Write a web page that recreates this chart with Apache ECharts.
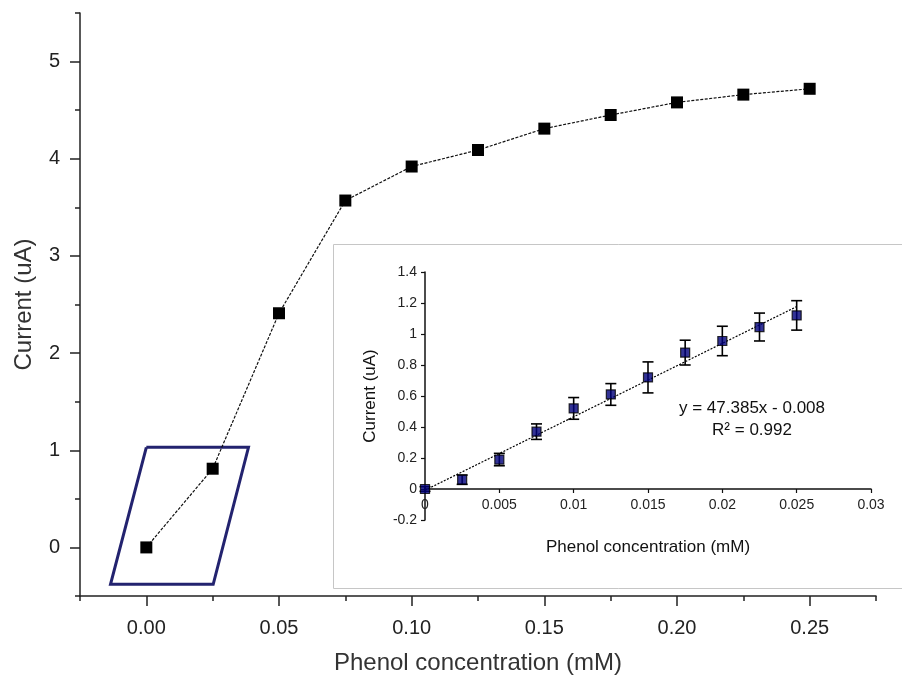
<!DOCTYPE html>
<html>
<head>
<meta charset="utf-8">
<title>Phenol calibration</title>
<script src="https://cdn.jsdelivr.net/npm/echarts@6/dist/echarts.min.js"></script>
<style>
  html, body { margin: 0; padding: 0; background: #fff; }
  #chart { width: 902px; height: 680px; }
</style>
</head>
<body>
<div id="chart"></div>
<script>
// Full concentration range (mM) and measured current (uA)
const mainConc = [0, 0.025, 0.05, 0.075, 0.10, 0.125, 0.15, 0.175, 0.20, 0.225, 0.25];
const mainCurrent = [0, 0.81, 2.41, 3.57, 3.92, 4.09, 4.31, 4.45, 4.58, 4.66, 4.72];

// Main axis ticks
const mainXMajor = [0, 0.05, 0.10, 0.15, 0.20, 0.25];
const mainXMinor = [-0.025, 0.025, 0.075, 0.125, 0.175, 0.225, 0.275];
const mainYMajor = [0, 1, 2, 3, 4, 5];
const mainYMinor = [-0.5, 0.5, 1.5, 2.5, 3.5, 4.5, 5.5];

// Highlight frame around the linear region (data coordinates)
const frameCorners = [[0, 1.03], [0.0385, 1.03], [0.0252, -0.38], [-0.0135, -0.38], [0, 1.03]];

// Linear region: concentration (mM), mean current (uA) and error (uA)
const linConc = [0, 0.0025, 0.005, 0.0075, 0.01, 0.0125, 0.015, 0.0175, 0.02, 0.0225, 0.025];
const linCurrent = [0, 0.06, 0.19, 0.37, 0.52, 0.61, 0.72, 0.88, 0.955, 1.045, 1.12];
const linError = [0.015, 0.03, 0.04, 0.05, 0.07, 0.07, 0.10, 0.08, 0.095, 0.09, 0.095];

// Least-squares fit of the linear region
const fitSlope = 47.385;
const fitIntercept = -0.008;
const fitR2 = 0.992;
const fitRange = [0, 0.025];

const FONT = "'Liberation Sans', Arial, sans-serif";
const TEXT = '#222';
const AXIS = { color: '#222', width: 1.5 };

// Inset plot box: y runs from -0.2 to 1.4 over 248 px, so the zero line sits 31 px above the bottom
const INSET_H = 248;
const INSET_YMIN = -0.2, INSET_YMAX = 1.4;
const zeroOffset = -INSET_H * (0 - INSET_YMIN) / (INSET_YMAX - INSET_YMIN);

const chart = echarts.init(document.getElementById('chart'), null, { renderer: 'canvas' });

const fitLine = fitRange.map(x => [x, fitSlope * x + fitIntercept]);
const errData = linConc.map((x, i) => [x, linCurrent[i] - linError[i], linCurrent[i] + linError[i]]);

const option = {
  animation: false,
  backgroundColor: '#fff',
  grid: [
    { left: 80, top: 13, width: 796, height: 584, show: false },
    { left: 425, top: 272, width: 446, height: INSET_H, show: false }
  ],
  graphic: [
    {
      type: 'rect',
      shape: { x: 333.5, y: 244.5, width: 600, height: 344 },
      style: { fill: 'none', stroke: '#c6c6c6', lineWidth: 1 },
      z: 0
    },
    {
      type: 'text',
      style: {
        text: 'y = ' + fitSlope + 'x - ' + Math.abs(fitIntercept).toFixed(3),
        x: 752, y: 408, textAlign: 'center', textVerticalAlign: 'middle',
        font: '17px ' + FONT, fill: '#111'
      }
    },
    {
      type: 'text',
      style: {
        text: 'R² = ' + fitR2,
        x: 752, y: 430, textAlign: 'center', textVerticalAlign: 'middle',
        font: '17px ' + FONT, fill: '#111'
      }
    }
  ],
  xAxis: [
    {
      gridIndex: 0, type: 'value', min: -0.025, max: 0.275, position: 'bottom',
      axisLine: { show: true, onZero: false, lineStyle: AXIS },
      axisTick: { show: true, customValues: mainXMajor, length: 10, lineStyle: AXIS },
      axisLabel: {
        customValues: mainXMajor, margin: 22, color: TEXT, fontSize: 20, fontFamily: FONT,
        formatter: v => v.toFixed(2)
      },
      splitLine: { show: false },
      name: 'Phenol concentration (mM)', nameLocation: 'middle', nameGap: 55,
      nameTextStyle: { color: '#333', fontSize: 24, fontFamily: FONT }
    },
    {
      gridIndex: 0, type: 'value', min: -0.025, max: 0.275, position: 'bottom',
      axisLine: { show: false, onZero: false },
      axisTick: { show: true, customValues: mainXMinor, length: 5, lineStyle: AXIS },
      axisLabel: { show: false },
      splitLine: { show: false }
    },
    {
      gridIndex: 1, type: 'value', min: 0, max: 0.03, interval: 0.005,
      position: 'bottom', offset: zeroOffset,
      axisLine: { show: true, onZero: false, lineStyle: { color: '#111', width: 1.5 } },
      axisTick: { show: true, length: 4, lineStyle: { color: '#111', width: 1.2 } },
      axisLabel: { margin: 9, color: '#222', fontSize: 14, fontFamily: FONT },
      splitLine: { show: false },
      name: 'Phenol concentration (mM)', nameLocation: 'middle', nameGap: 50,
      nameTextStyle: { color: '#111', fontSize: 17, fontFamily: FONT }
    }
  ],
  yAxis: [
    {
      gridIndex: 0, type: 'value', min: -0.5, max: 5.5, position: 'left',
      axisLine: { show: true, onZero: false, lineStyle: AXIS },
      axisTick: { show: true, customValues: mainYMajor, length: 10, lineStyle: AXIS },
      axisLabel: {
        customValues: mainYMajor, margin: 20, color: TEXT, fontSize: 20, fontFamily: FONT,
        formatter: v => String(Math.round(v))
      },
      splitLine: { show: false },
      name: 'Current (uA)', nameLocation: 'middle', nameGap: 44,
      nameTextStyle: { color: '#333', fontSize: 24, fontFamily: FONT }
    },
    {
      gridIndex: 0, type: 'value', min: -0.5, max: 5.5, position: 'left',
      axisLine: { show: false, onZero: false },
      axisTick: { show: true, customValues: mainYMinor, length: 5, lineStyle: AXIS },
      axisLabel: { show: false },
      splitLine: { show: false }
    },
    {
      gridIndex: 1, type: 'value', min: INSET_YMIN, max: INSET_YMAX, interval: 0.2,
      axisLine: { show: true, onZero: false, lineStyle: { color: '#111', width: 1.5 } },
      axisTick: { show: true, length: 4, lineStyle: { color: '#111', width: 1.2 } },
      axisLabel: { margin: 8, color: '#222', fontSize: 14, fontFamily: FONT },
      splitLine: { show: false },
      name: 'Current (uA)', nameLocation: 'middle', nameGap: 46,
      nameTextStyle: { color: '#111', fontSize: 17, fontFamily: FONT }
    }
  ],
  series: [
    {
      name: 'frame', type: 'line', xAxisIndex: 0, yAxisIndex: 0,
      data: frameCorners, symbol: 'none', silent: true, clip: false,
      lineStyle: { color: '#23236f', width: 3, join: 'miter' }, z: 1
    },
    {
      name: 'current', type: 'line', xAxisIndex: 0, yAxisIndex: 0,
      data: mainConc.map((x, i) => [x, mainCurrent[i]]),
      symbol: 'rect', symbolSize: 12,
      itemStyle: { color: '#000' },
      lineStyle: { color: '#111', width: 1.2, type: [3, 1.5] }, z: 3
    },
    {
      name: 'fit', type: 'line', xAxisIndex: 2, yAxisIndex: 2,
      data: fitLine, symbol: 'none',
      lineStyle: { color: '#000', width: 1.2, type: [2, 1.5] }, z: 2
    },
    {
      name: 'error', type: 'custom', xAxisIndex: 2, yAxisIndex: 2,
      data: errData, encode: { x: 0, y: [1, 2] }, z: 3,
      renderItem: function (params, api) {
        const x = api.value(0);
        const lo = api.coord([x, api.value(1)]);
        const hi = api.coord([x, api.value(2)]);
        const w = 5.5;
        const st = { stroke: '#000', lineWidth: 1.6 };
        return {
          type: 'group',
          children: [
            { type: 'line', shape: { x1: hi[0], y1: hi[1], x2: lo[0], y2: lo[1] }, style: st },
            { type: 'line', shape: { x1: hi[0] - w, y1: hi[1], x2: hi[0] + w, y2: hi[1] }, style: st },
            { type: 'line', shape: { x1: lo[0] - w, y1: lo[1], x2: lo[0] + w, y2: lo[1] }, style: st }
          ]
        };
      }
    },
    {
      name: 'linear', type: 'scatter', xAxisIndex: 2, yAxisIndex: 2,
      data: linConc.map((x, i) => [x, linCurrent[i]]),
      symbol: 'rect', symbolSize: 9,
      itemStyle: { color: '#00007a', borderColor: '#000', borderWidth: 1.2 }, z: 4
    }
  ]
};

chart.setOption(option);
</script>
</body>
</html>
